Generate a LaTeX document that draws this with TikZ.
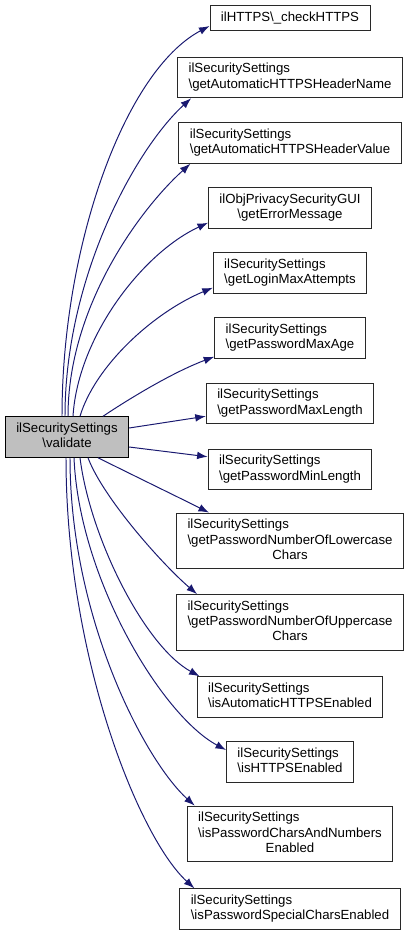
\documentclass[tikz,border=0pt]{standalone}
\usepackage{fontspec}
\setmainfont{Liberation Sans}
\usetikzlibrary{arrows.meta,calc}
\definecolor{DoxEdge}{RGB}{25,25,112}
\definecolor{DoxGray}{RGB}{191,191,191}
\definecolor{DoxBorder}{RGB}{40,40,40}
\newcommand{\fnline}[1]{\begin{tabular}{@{}c@{}}#1\end{tabular}}
\newcommand{\fnlabel}[2]{\begin{tabular}{@{}l@{}}#1\\\multicolumn{1}{@{}c@{}}{#2}\end{tabular}}
\tikzset{
  dox/fn/.style={
    draw=DoxBorder,
    line width=0.7pt,
    fill=white,
    text=black,
    inner xsep=7.8pt,
    inner ysep=3.5pt,
    font=\fontsize{9.4}{10.9}\selectfont
  },
  dox/self/.style={dox/fn, draw=black, fill=DoxGray},
  dox/call/.style={-{Latex[length=7.5pt,width=5.5pt]}, line width=0.7pt, draw=DoxEdge}
}

\begin{document}
\begin{tikzpicture}[x=0.025cm,y=-0.025cm]
  \useasboundingbox (0,0) rectangle (408,934);
  \node[dox/self] (validate) at (67,437) {\fnlabel{ilSecuritySettings}{\textbackslash validate}};
  \node[dox/fn] (checkHTTPS) at (290,18) {\fnline{ilHTTPS\textbackslash\_checkHTTPS}};
  \node[dox/fn] (headerName) at (290,77.5) {\fnlabel{ilSecuritySettings}{\textbackslash getAutomaticHTTPSHeaderName}};
  \node[dox/fn] (headerValue) at (290,143) {\fnlabel{ilSecuritySettings}{\textbackslash getAutomaticHTTPSHeaderValue}};
  \node[dox/fn] (errorMessage) at (290,208) {\fnlabel{ilObjPrivacySecurityGUI}{\textbackslash getErrorMessage}};
  \node[dox/fn] (loginAttempts) at (290,273) {\fnlabel{ilSecuritySettings}{\textbackslash getLoginMaxAttempts}};
  \node[dox/fn] (maxAge) at (290,338) {\fnlabel{ilSecuritySettings}{\textbackslash getPasswordMaxAge}};
  \node[dox/fn] (maxLength) at (290,403.5) {\fnlabel{ilSecuritySettings}{\textbackslash getPasswordMaxLength}};
  \node[dox/fn] (minLength) at (290,469.5) {\fnlabel{ilSecuritySettings}{\textbackslash getPasswordMinLength}};
  \node[dox/fn] (lowerChars) at (290,541) {\fnlabel{ilSecuritySettings\\\textbackslash getPasswordNumberOfLowercase}{Chars}};
  \node[dox/fn] (upperChars) at (290,622.5) {\fnlabel{ilSecuritySettings\\\textbackslash getPasswordNumberOfUppercase}{Chars}};
  \node[dox/fn] (autoHTTPS) at (290,697) {\fnlabel{ilSecuritySettings}{\textbackslash isAutomaticHTTPSEnabled}};
  \node[dox/fn] (httpsEnabled) at (290,762) {\fnlabel{ilSecuritySettings}{\textbackslash isHTTPSEnabled}};
  \node[dox/fn] (charsNumbers) at (290,834) {\fnlabel{ilSecuritySettings\\\textbackslash isPasswordCharsAndNumbers}{Enabled}};
  \node[dox/fn] (specialChars) at (290,909) {\fnlabel{ilSecuritySettings}{\textbackslash isPasswordSpecialCharsEnabled}};

  \draw[dox/call] ($(validate.north)+(-5,0)$) .. controls +(0,-170) and +(-85,45) .. ($(checkHTTPS.west)+(0,8)$);
  \draw[dox/call] ($(validate.north)+(-2,0)$) .. controls +(0,-140) and +(-55,50) .. ($(headerName.south west)+(14,0)$);
  \draw[dox/call] ($(validate.north)+(1,0)$) .. controls +(0,-110) and +(-50,45) .. ($(headerValue.south west)+(12,0)$);
  \draw[dox/call] ($(validate.north)+(6,0)$) .. controls +(5,-80) and +(-65,30) .. ($(errorMessage.south west)+(0,-6)$);
  \draw[dox/call] ($(validate.north)+(13,0)$) .. controls +(15,-50) and +(-60,25) .. ($(loginAttempts.south west)+(0,-6)$);
  \draw[dox/call] ($(validate.north)+(36,0)$) .. controls +(30,-20) and +(-40,15) .. ($(maxAge.south west)+(0,-2)$);
  \draw[dox/call] ($(validate.east)+(0,-9)$) -- ($(maxLength.south west)+(0,-8)$);
  \draw[dox/call] ($(validate.east)+(0,10)$) -- ($(minLength.north west)+(0,8)$);
  \draw[dox/call] ($(validate.south)+(31,0)$) .. controls +(30,15) and +(-30,-15) .. ($(lowerChars.north west)+(33,0)$);
  \draw[dox/call] ($(validate.south)+(21,0)$) .. controls +(15,40) and +(-35,-30) .. ($(upperChars.north west)+(21,0)$);
  \draw[dox/call] ($(validate.south)+(13,0)$) .. controls +(10,80) and +(-55,-30) .. ($(autoHTTPS.north west)+(3,0)$);
  \draw[dox/call] ($(validate.south)+(7,0)$) .. controls +(5,120) and +(-65,-35) .. ($(httpsEnabled.west)+(0,-12)$);
  \draw[dox/call] ($(validate.south)+(3,0)$) .. controls +(0,160) and +(-50,-45) .. ($(charsNumbers.north west)+(8,0)$);
  \draw[dox/call] ($(validate.south)+(-1,0)$) .. controls +(0,200) and +(-55,-50) .. ($(specialChars.north west)+(15,0)$);
\end{tikzpicture}
\end{document}
